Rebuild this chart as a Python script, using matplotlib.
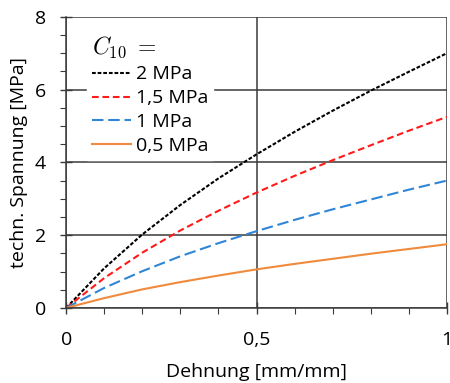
import matplotlib
matplotlib.use("Agg")
import matplotlib.pyplot as plt
from matplotlib.ticker import MultipleLocator, FuncFormatter

plt.rcParams['font.family'] = ['Open Sans', 'DejaVu Sans']
plt.rcParams['mathtext.fontset'] = 'cm'

# strain [mm/mm]
dehnung = [0, 0.1, 0.2, 0.3, 0.4, 0.5, 0.6, 0.7, 0.8, 0.9, 1.0]
# engineering stress [MPa]
s_2 = [0, 1.09, 2.02, 2.83, 3.56, 4.22, 4.84, 5.42, 5.97, 6.49, 7.0]
s_15 = [0, 0.82, 1.52, 2.13, 2.67, 3.17, 3.63, 4.06, 4.47, 4.87, 5.25]
s_1 = [0, 0.55, 1.01, 1.42, 1.78, 2.11, 2.42, 2.71, 2.98, 3.25, 3.5]
s_05 = [0, 0.27, 0.51, 0.71, 0.89, 1.06, 1.21, 1.35, 1.49, 1.62, 1.75]
labels = ["2 MPa", "1,5 MPa", "1 MPa", "0,5 MPa"]

fig = plt.figure(figsize=(4.5, 3.83), dpi=100)
ax = fig.add_axes([0.147, 0.196, 0.846, 0.76])

grid_col = "#3a3a3a"
ax.plot(dehnung, s_2, color="black", lw=1.5, dashes=(1.8, 0.9), label=labels[0])
ax.plot(dehnung, s_15, color="#ff1a1a", lw=1.5, dashes=(3.2, 1.8), label=labels[1])
ax.plot(dehnung, s_1, color="#2f86d6", lw=1.5, dashes=(5.5, 2.3), label=labels[2])
ax.plot(dehnung, s_05, color="#f08a3c", lw=1.5, label=labels[3])

ax.set_xlim(0, 1)
ax.set_ylim(0, 8)
ax.xaxis.set_major_locator(MultipleLocator(0.5))
ax.xaxis.set_minor_locator(MultipleLocator(0.1))
ax.yaxis.set_major_locator(MultipleLocator(2))
ax.yaxis.set_minor_locator(MultipleLocator(0.5))
fmt = FuncFormatter(lambda v, p: ("%g" % v).replace(".", ","))
ax.xaxis.set_major_formatter(fmt)
ax.yaxis.set_major_formatter(fmt)
ax.tick_params(which="major", direction="inout", length=9, width=1, labelsize=14,
               color=grid_col, pad=10)
ax.tick_params(which="minor", direction="out", length=4, width=0.8, color=grid_col)
ax.tick_params(axis="x", which="major", pad=12)
ax.grid(True, which="major", color=grid_col, lw=1.1)
for sp in ax.spines.values():
    sp.set_linewidth(1.1)
    sp.set_color(grid_col)
ax.spines["top"].set_visible(False)
ax.spines["right"].set_visible(False)

ax.set_xlabel("Dehnung [mm/mm]", fontsize=14, labelpad=10)
ax.set_ylabel("techn. Spannung [MPa]", fontsize=14, labelpad=5)

leg = ax.legend(title=r"$C_{10}\ =$", loc="upper left", bbox_to_anchor=(0.03, 0.99),
                fontsize=14, title_fontsize=17, frameon=True, fancybox=False,
                edgecolor="white", framealpha=1, handlelength=2.0, handletextpad=0.25,
                labelspacing=0.3, borderpad=0.25)
leg._legend_box.align = "left"

fig.savefig("out.png", dpi=100)
